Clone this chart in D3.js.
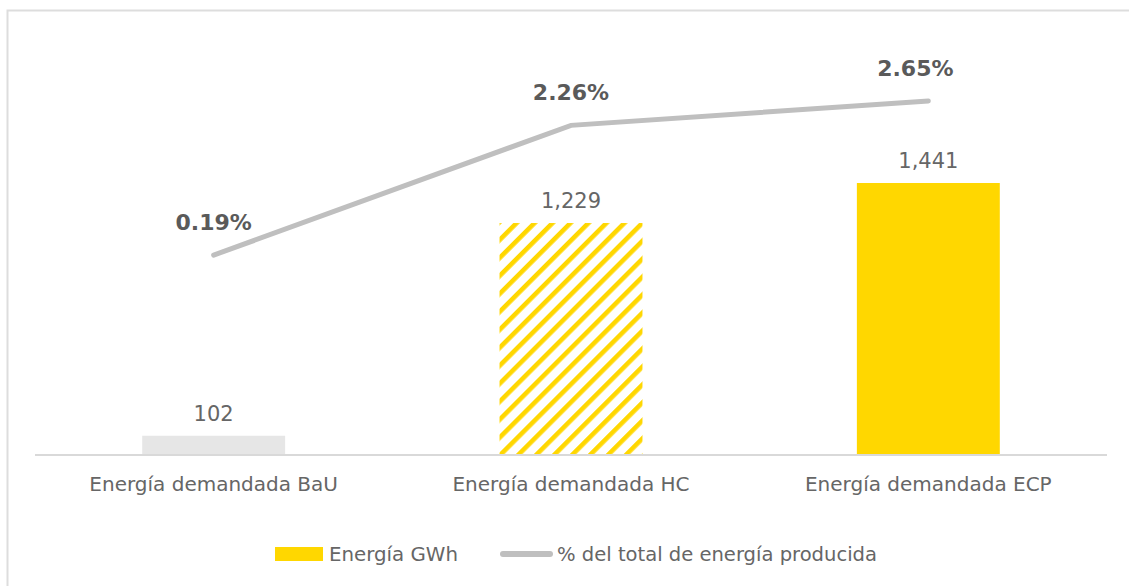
<!DOCTYPE html>
<html>
<head>
<meta charset="utf-8">
<script src="https://cdn.jsdelivr.net/npm/d3@7"></script>
<style>
  html, body { margin: 0; padding: 0; background: #fff; }
  svg { display: block; font-family: "DejaVu Sans", Verdana, sans-serif; }
</style>
</head>
<body>
<svg id="chart" width="1129" height="586"></svg>
<script>
const categories = ["Energía demandada BaU", "Energía demandada HC", "Energía demandada ECP"];
const energyGWh = [102, 1229, 1441];
const sharePct = [0.19, 2.26, 2.65];
const barLabels = ["102", "1,229", "1,441"];
const pctLabels = ["0.19%", "2.26%", "2.65%"];
const barStyles = ["gray", "hatch", "solid"];
const legendLabels = ["Energía GWh", "% del total de energía producida"];

const svg = d3.select("#chart");
const yellow = "#FFD700";
const lineGray = "#BFBFBF";
const textGray = "#666666";

// frame
svg.append("rect").attr("x", 7.5).attr("y", 10.5).attr("width", 1130).attr("height", 590)
  .attr("fill", "none").attr("stroke", "#DDDDDD").attr("stroke-width", 2);

// hatch pattern
const defs = svg.append("defs");
const pat = defs.append("pattern").attr("id", "hatch").attr("patternUnits", "userSpaceOnUse")
  .attr("width", 12.7).attr("height", 12.7).attr("patternTransform", "rotate(45)");
pat.append("rect").attr("width", 12.7).attr("height", 12.7).attr("fill", "#fff");
pat.append("rect").attr("x", 0).attr("y", 0).attr("width", 4.6).attr("height", 12.7).attr("fill", yellow);

const plotLeft = 35, plotRight = 1107, baseY = 455;
const x = d3.scaleBand().domain(categories).range([plotLeft, plotRight]).paddingInner(0.6).paddingOuter(0.3);
const y = d3.scaleLinear().domain([0, 1600]).range([baseY, baseY - 302]);
const y2 = d3.scaleLinear().domain([0, 3]).range([267, 267 - 188]);

// bars
svg.append("g").selectAll("rect").data(categories).join("rect")
  .attr("x", d => x(d))
  .attr("width", x.bandwidth())
  .attr("y", (d, i) => y(energyGWh[i]))
  .attr("height", (d, i) => baseY - y(energyGWh[i]))
  .attr("fill", (d, i) => barStyles[i] === "gray" ? "#E6E6E6" : barStyles[i] === "hatch" ? "url(#hatch)" : yellow);

// baseline
svg.append("line").attr("x1", plotLeft).attr("x2", plotRight).attr("y1", baseY).attr("y2", baseY)
  .attr("stroke", "#D9D9D9").attr("stroke-width", 2);

// bar labels
svg.append("g").selectAll("text").data(categories).join("text")
  .attr("x", d => x(d) + x.bandwidth() / 2)
  .attr("y", (d, i) => y(energyGWh[i]) - 15)
  .attr("text-anchor", "middle")
  .attr("font-size", 21).attr("fill", textGray)
  .text((d, i) => barLabels[i]);

// category labels
svg.append("g").selectAll("text").data(categories).join("text")
  .attr("x", d => x(d) + x.bandwidth() / 2)
  .attr("y", 491)
  .attr("text-anchor", "middle")
  .attr("font-size", 20).attr("fill", textGray)
  .text(d => d);

// line
const line = d3.line().x((d, i) => x(categories[i]) + x.bandwidth() / 2).y(d => y2(d));
svg.append("path").datum(sharePct).attr("d", line)
  .attr("fill", "none").attr("stroke", lineGray).attr("stroke-width", 5).attr("stroke-linecap", "round");

// pct labels
const pctDx = [0, 0, -13];
svg.append("g").selectAll("text").data(sharePct).join("text")
  .attr("x", (d, i) => x(categories[i]) + x.bandwidth() / 2 + pctDx[i])
  .attr("y", d => y2(d) - 25)
  .attr("text-anchor", "middle")
  .attr("font-size", 22).attr("font-weight", "bold").attr("fill", "#5A5A5A")
  .text((d, i) => pctLabels[i]);

// legend
const lg = svg.append("g");
lg.append("rect").attr("x", 275).attr("y", 547).attr("width", 48).attr("height", 14).attr("fill", yellow);
lg.append("text").attr("x", 329).attr("y", 561).attr("font-size", 20).attr("fill", textGray)
  .attr("textLength", 129).attr("lengthAdjust", "spacingAndGlyphs").text(legendLabels[0]);
lg.append("line").attr("x1", 503).attr("x2", 550).attr("y1", 554).attr("y2", 554)
  .attr("stroke", lineGray).attr("stroke-width", 6).attr("stroke-linecap", "round");
lg.append("text").attr("x", 557).attr("y", 561).attr("font-size", 20).attr("fill", textGray)
  .attr("textLength", 320).attr("lengthAdjust", "spacingAndGlyphs").text(legendLabels[1]);
</script>
</body>
</html>
